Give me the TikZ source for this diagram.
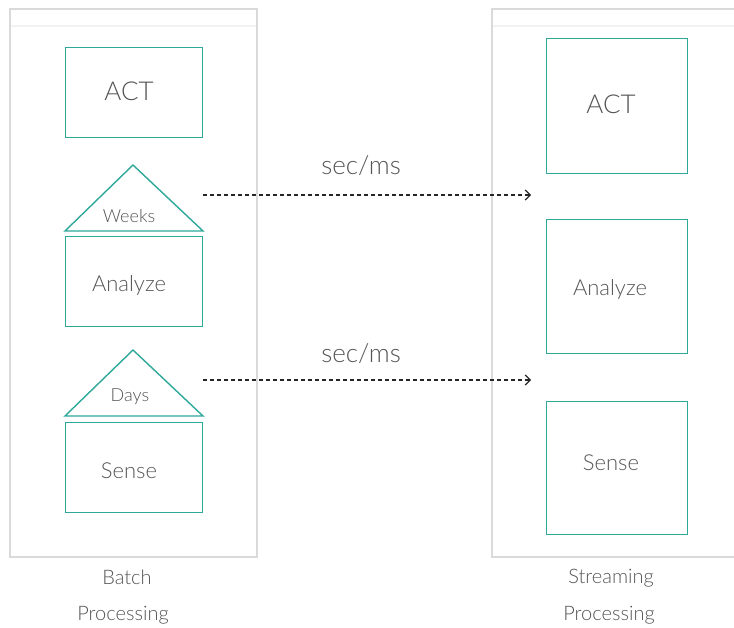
\documentclass[tikz,border=0pt]{standalone}
\usepackage{fontspec}
\setmainfont{Lato}[UprightFont={* Light}]
\usetikzlibrary{arrows.meta}
\definecolor{teal1}{HTML}{2EA899}
\definecolor{frameg}{HTML}{DADADA}
\definecolor{bandg}{HTML}{F2F2F2}
\definecolor{txtg}{HTML}{555555}
\tikzset{
  frame/.style={draw=frameg, line width=1.6pt},
  band/.style={draw=bandg, line width=1.6pt},
  stage/.style={draw=teal1, line width=1.4pt},
  lbl/.style={text=txtg, inner sep=0pt, anchor=center},
  flow/.style={draw=black!85, line width=1.2pt, dash pattern=on 4pt off 3pt,
    -{Straight Barb[length=5pt,width=10pt,line width=1.2pt]}},
}
\begin{document}
\begin{tikzpicture}[x=1pt,y=-1pt]
\useasboundingbox (0,0) rectangle (734,628);
% frames
\draw[band] (11,26) -- (256,26);
\draw[band] (493,26) -- (734,26);
\draw[frame] (10,9) rectangle (257,557);
\draw[frame] (740,9) -- (492,9) -- (492,557) -- (740,557);
% batch side
\node[stage, minimum width=137pt, minimum height=90pt, anchor=north west] (bact) at (65,47) {};
\node[lbl, font=\fontsize{26}{28}\selectfont] at (129,91) {ACT};
\coordinate (wapex) at (133,165);
\coordinate (wl) at (65,231);
\coordinate (wr) at (203,231);
\draw[stage, line join=miter] (wl) -- (wapex) -- (wr) -- cycle;
\node[lbl, font=\fontsize{18}{20}\selectfont] (weeks) at (129,216) {Weeks};
\node[stage, minimum width=137pt, minimum height=90pt, anchor=north west] (bana) at (65,236) {};
\node[lbl, font=\fontsize{22}{24}\selectfont] at (129,285) {Analyze};
\coordinate (dapex) at (133,350);
\coordinate (dl) at (65,416);
\coordinate (dr) at (203,416);
\draw[stage, line join=miter] (dl) -- (dapex) -- (dr) -- cycle;
\node[lbl, font=\fontsize{18}{20}\selectfont] (days) at (130,397) {Days};
\node[stage, minimum width=137pt, minimum height=90pt, anchor=north west] (bsen) at (65,422) {};
\node[lbl, font=\fontsize{22}{24}\selectfont] at (129,471) {Sense};
% streaming side
\node[stage, minimum width=141pt, minimum height=135pt, anchor=north west] (sact) at (546,38) {};
\node[lbl, font=\fontsize{26}{28}\selectfont] at (611,104) {ACT};
\node[stage, minimum width=141pt, minimum height=134pt, anchor=north west] (sana) at (546,219) {};
\node[lbl, font=\fontsize{22}{24}\selectfont] at (610,289) {Analyze};
\node[stage, minimum width=141pt, minimum height=133pt, anchor=north west] (ssen) at (546,401) {};
\node[lbl, font=\fontsize{22}{24}\selectfont] at (611,463) {Sense};
% latency arrows
\coordinate (a1s) at (203,195);
\coordinate (a1e) at (531,195);
\coordinate (a2s) at (203,380);
\coordinate (a2e) at (531,380);
\draw[flow] (a1s) -- (a1e);
\draw[flow] (a2s) -- (a2e);
\node[lbl, font=\fontsize{26}{28}\selectfont] at (361,166) {sec/ms};
\node[lbl, font=\fontsize{26}{28}\selectfont] at (361,354) {sec/ms};
% captions
\node[lbl, font=\fontsize{20}{22}\selectfont] at (127,577) {Batch};
\node[lbl, font=\fontsize{20}{22}\selectfont] at (123,615) {Processing};
\node[lbl, font=\fontsize{20}{22}\selectfont] at (611,578) {Streaming};
\node[lbl, font=\fontsize{20}{22}\selectfont] at (609,615) {Processing};
\end{tikzpicture}
\end{document}
